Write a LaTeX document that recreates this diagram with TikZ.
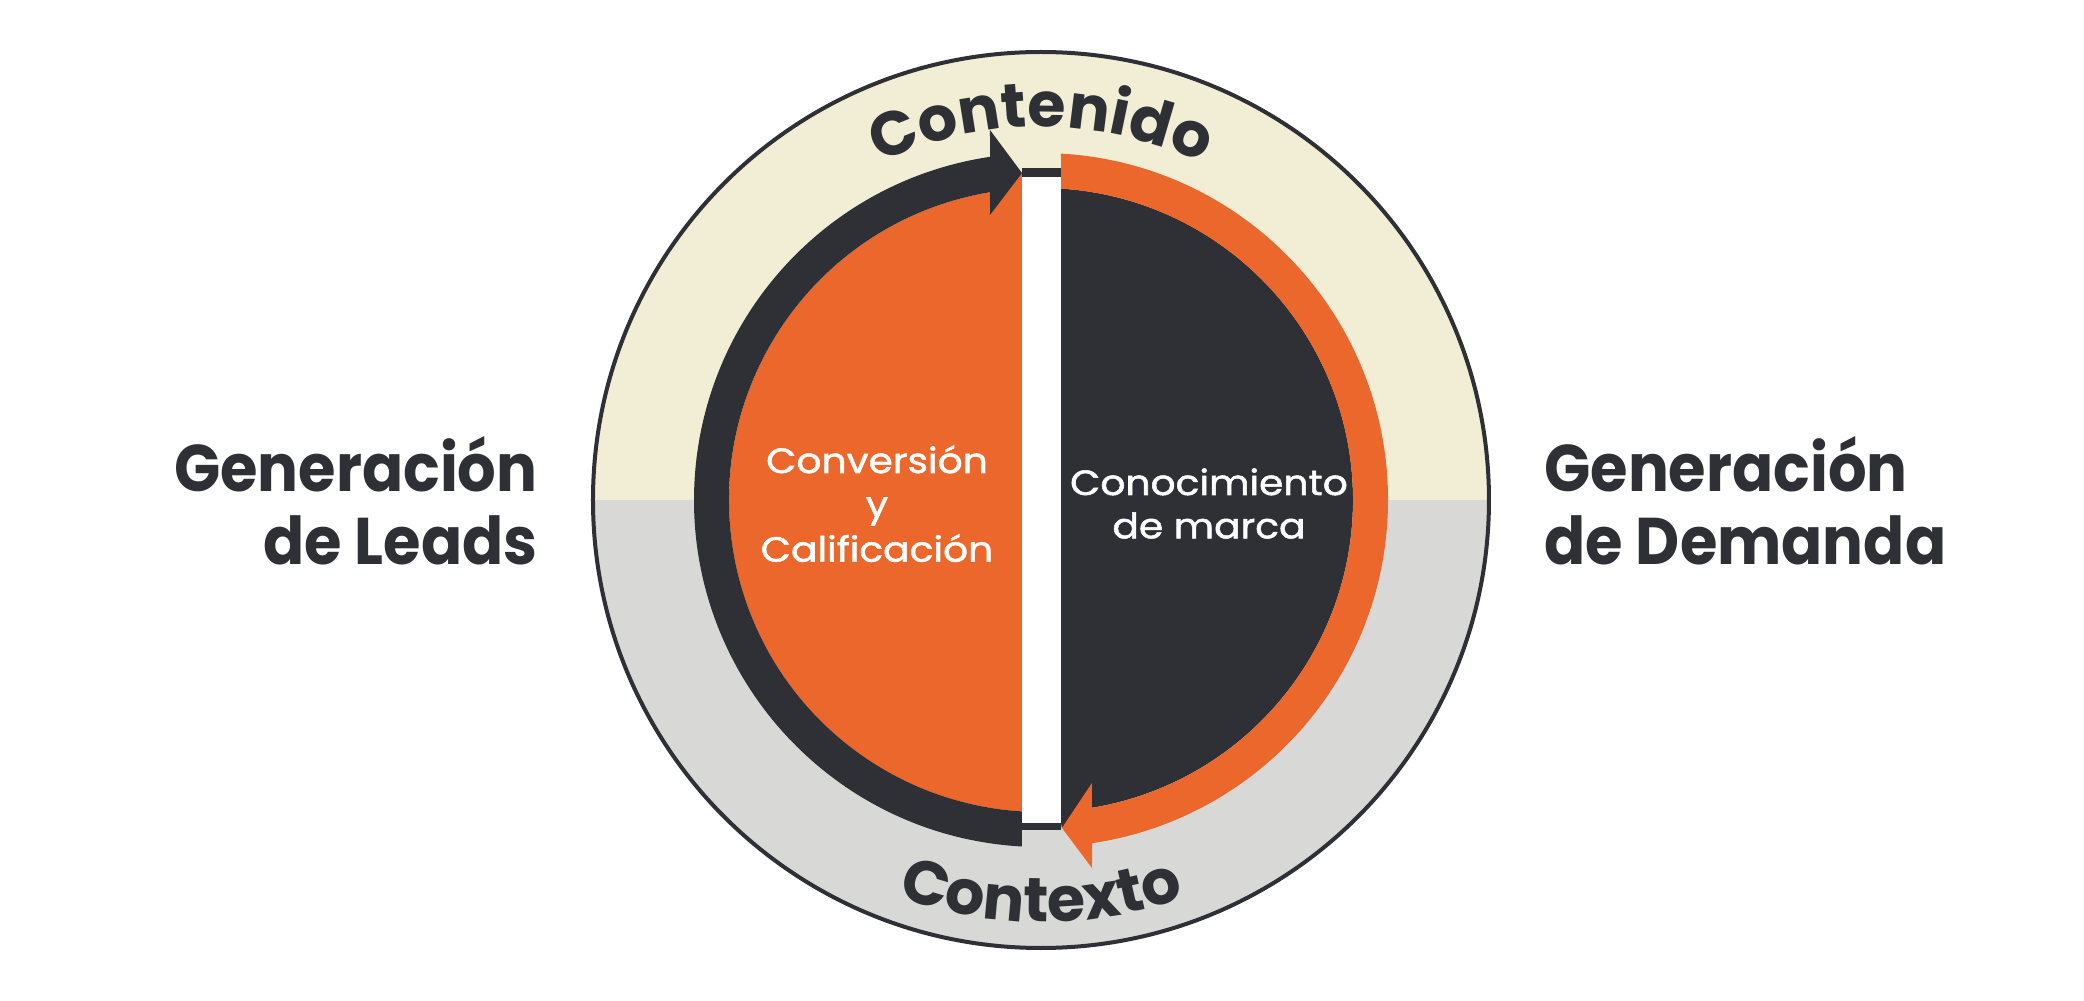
\documentclass[tikz,border=0pt]{standalone}
\usepackage{fontspec}
\setmainfont{Poppins}
\newfontfamily\innerfont{Poppins}[FakeStretch=1.12, FakeBold=1.5]
\newfontfamily\ladofont{Poppins}[FakeStretch=0.92]
\usetikzlibrary{decorations.text}
\definecolor{tinta}{HTML}{2E3035}
\definecolor{naranja}{HTML}{EB672C}
\definecolor{crema}{HTML}{F2EED6}
\definecolor{gris}{HTML}{D8D9D7}
\newcommand{\arcofont}{\fontsize{31}{31}\selectfont\bfseries}
\tikzset{
  lado/.style={text=tinta, font=\ladofont\fontsize{33}{36}\selectfont\bfseries, inner sep=0pt},
  centro/.style={text=white, font=\innerfont\fontsize{17.5}{20}\selectfont, inner sep=0pt, anchor=base},
}
\begin{document}
\begin{tikzpicture}[x=0.5pt,y=0.5pt]
  \useasboundingbox (-1041,-501) rectangle (1043,500);
  \fill[white] (-1041,-501) rectangle (1043,500);

  \fill[crema] (0:448) arc[start angle=0, end angle=180, radius=448] -- cycle;
  \fill[gris] (180:448) arc[start angle=180, end angle=360, radius=448] -- cycle;
  \draw[tinta, line width=2pt] (0,0) circle[radius=448];

  \fill[naranja] (-19,-311.4) arc[start angle=266.5, end angle=99.4, radius=312] -- (-19,327) -- cycle;
  \fill[tinta] (-19,-346.5) arc[start angle=266.86, end angle=98.45, radius=347]
    -- (-51,370) -- (-19,327) -- (-51,285) -- (99.4:312)
    arc[start angle=99.4, end angle=266.5, radius=312] -- cycle;

  \fill[tinta] (20,311.4) arc[start angle=86.32, end angle=-80.6, radius=312] -- (21,-328) -- (20,-323) -- cycle;
  \fill[naranja] (20,346.4) arc[start angle=86.7, end angle=-81.55, radius=347]
    -- (51,-368) -- (21,-328) -- (51,-283) -- (-80.6:312)
    arc[start angle=-80.6, end angle=86.32, radius=312] -- cycle;

  \fill[tinta] (-19,-330) rectangle (20,332);
  \fill[white] (-19,-323) rectangle (20,323);

  \path[decorate, decoration={text along path, text align=center, text color=tinta,
    text={|\arcofont|Contenido}}] (150:373) arc[start angle=150, end angle=30, radius=373];
  \path[decorate, decoration={text along path, text align=center, text color=tinta,
    text={|\arcofont|Contexto}}] (210:422) arc[start angle=210, end angle=330, radius=422];

  \node[centro] (conv1) at (-164,27) {Conversión};
  \node[centro] (conv2) at (-164,-16.7) {y};
  \node[centro] (conv3) at (-164,-61.7) {Calificación};
  \node[centro] (cono1) at (168,5) {Conocimiento};
  \node[centro] (cono2) at (168,-38.3) {de marca};

  \node[lado, anchor=base east] (leads1) at (-503,8) {Generación};
  \node[lado, anchor=base east] (leads2) at (-503,-65) {de Leads};
  \node[lado, anchor=base west] (dem1) at (503,8) {Generación};
  \node[lado, anchor=base west] (dem2) at (503,-65) {de Demanda};
\end{tikzpicture}
\end{document}
